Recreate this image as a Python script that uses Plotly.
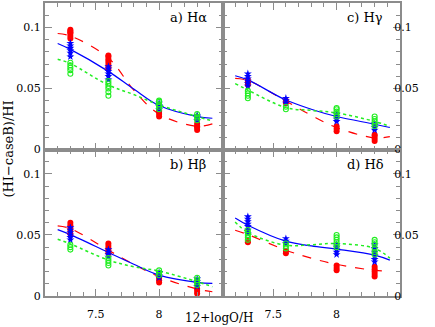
import plotly.graph_objects as go
from plotly.subplots import make_subplots

# metallicity grid of the models and x positions of the fit curves
oh_points = [7.3, 7.6, 8.0, 8.3]
fit_x = [7.2, 7.3, 7.6, 7.8, 8.0, 8.3, 8.42]

# (HI-caseB)/HI values, one list per metallicity
a_red = [[0.091, 0.093, 0.095, 0.096, 0.097, 0.098], [0.066, 0.068, 0.070, 0.072, 0.074, 0.076, 0.077],
         [0.027, 0.029, 0.031, 0.032], [0.016, 0.018, 0.019, 0.021]]
a_blue = [[0.076, 0.079, 0.081, 0.083, 0.085, 0.087], [0.057, 0.060, 0.062, 0.064, 0.066, 0.068],
          [0.033, 0.035, 0.036, 0.038], [0.024, 0.026, 0.027, 0.028]]
a_green = [[0.062, 0.065, 0.067, 0.069, 0.071], [0.044, 0.047, 0.050, 0.052, 0.054, 0.056],
           [0.033, 0.035, 0.037, 0.039, 0.040], [0.024, 0.026, 0.027, 0.029]]

c_red = [[0.053, 0.055, 0.057], [0.038, 0.040], [0.015, 0.017, 0.019], [0.007, 0.009, 0.011, 0.012]]
c_blue = [[0.052, 0.054, 0.056, 0.058, 0.060, 0.062], [0.038, 0.040, 0.042],
          [0.023, 0.025, 0.027, 0.029], [0.016, 0.018, 0.020, 0.021]]
c_green = [[0.042, 0.044, 0.046, 0.048], [0.033, 0.035], [0.027, 0.029, 0.031, 0.033, 0.034],
           [0.019, 0.021, 0.023, 0.025, 0.027]]

b_red = [[0.051, 0.054, 0.056, 0.058, 0.060], [0.035, 0.037, 0.039, 0.041, 0.043],
         [0.011, 0.013, 0.015], [0.002, 0.004, 0.006]]
b_blue = [[0.046, 0.048, 0.050, 0.052, 0.054, 0.056], [0.032, 0.034, 0.036, 0.038],
          [0.015, 0.017, 0.019], [0.008, 0.010, 0.012, 0.014]]
b_green = [[0.038, 0.040, 0.042], [0.025, 0.027, 0.029, 0.031], [0.017, 0.019, 0.021],
           [0.009, 0.011, 0.013, 0.015]]

d_red = [[0.044, 0.045], [0.035, 0.037], [0.021, 0.023, 0.025], [0.016, 0.018, 0.020, 0.022, 0.024]]
d_blue = [[0.051, 0.054, 0.057, 0.059, 0.061, 0.063, 0.065], [0.043, 0.045, 0.047],
          [0.034, 0.036, 0.038, 0.040, 0.042], [0.028, 0.030, 0.033, 0.036, 0.039, 0.042]]
d_green = [[0.046, 0.048, 0.050, 0.052, 0.054], [0.039, 0.041, 0.043],
           [0.040, 0.042, 0.044, 0.046, 0.048, 0.050], [0.034, 0.036, 0.039, 0.042, 0.044, 0.046]]

# fit curves
a_red_fit = [0.095, 0.093, 0.075, 0.0487, 0.029, 0.019, 0.021]
a_blue_fit = [0.0868, 0.082, 0.064, 0.0495, 0.036, 0.027, 0.0256]
a_green_fit = [0.074, 0.0704, 0.0528, 0.045, 0.0365, 0.027, 0.0234]

c_red_fit = [0.0582, 0.0565, 0.0397, 0.028, 0.018, 0.0095, 0.0106]
c_blue_fit = [0.0604, 0.057, 0.0405, 0.033, 0.027, 0.0207, 0.018]
c_green_fit = [0.054, 0.0487, 0.0343, 0.032, 0.030, 0.023, 0.019]

b_red_fit = [0.0574, 0.0552, 0.0375, 0.026, 0.0158, 0.0057, 0.0035]
b_blue_fit = [0.0544, 0.0503, 0.0357, 0.026, 0.0171, 0.0112, 0.0103]
b_green_fit = [0.0465, 0.0427, 0.0294, 0.024, 0.0204, 0.0117, 0.0076]

d_red_fit = [0.0539, 0.0503, 0.0375, 0.031, 0.0259, 0.021, 0.0204]
d_blue_fit = [0.0639, 0.058, 0.0449, 0.041, 0.0384, 0.0335, 0.0294]
d_green_fit = [0.0607, 0.052, 0.0416, 0.042, 0.043, 0.039, 0.031]

panel_labels = ["a) Hα", "c) Hγ", "b) Hβ", "d) Hδ"]

FONT = "DejaVu Serif"
AXIS_GREY = "#8c8c8c"
RED, BLUE, GREEN = "#ff0000", "#0000ff", "#22ee22"


def expand(groups):
    xs, ys = [], []
    for x, vals in zip(oh_points, groups):
        xs += [x] * len(vals)
        ys += vals
    return xs, ys


panels = [
    (1, 1, a_red, a_blue, a_green, a_red_fit, a_blue_fit, a_green_fit),
    (1, 2, c_red, c_blue, c_green, c_red_fit, c_blue_fit, c_green_fit),
    (2, 1, b_red, b_blue, b_green, b_red_fit, b_blue_fit, b_green_fit),
    (2, 2, d_red, d_blue, d_green, d_red_fit, d_blue_fit, d_green_fit),
]

fig = make_subplots(rows=2, cols=2, horizontal_spacing=0, vertical_spacing=0)

for i, (r, c, red, blue, green, red_fit, blue_fit, green_fit) in enumerate(panels):
    # fits
    fig.add_trace(go.Scatter(x=fit_x, y=red_fit, mode="lines", line_shape="spline",
                             line=dict(color=RED, width=1.2, dash="dash")), row=r, col=c)
    fig.add_trace(go.Scatter(x=fit_x, y=blue_fit, mode="lines", line_shape="spline",
                             line=dict(color=BLUE, width=1.2)), row=r, col=c)
    fig.add_trace(go.Scatter(x=fit_x, y=green_fit, mode="lines", line_shape="spline",
                             line=dict(color=GREEN, width=1.5, dash="dot")), row=r, col=c)
    # model points
    xs, ys = expand(red)
    fig.add_trace(go.Scatter(x=xs, y=ys, mode="markers",
                             marker=dict(color=RED, size=6, symbol="circle")), row=r, col=c)
    xs, ys = expand(blue)
    fig.add_trace(go.Scatter(x=xs, y=ys, mode="markers",
                             marker=dict(color=BLUE, size=6, symbol="star")), row=r, col=c)
    xs, ys = expand(green)
    fig.add_trace(go.Scatter(x=xs, y=ys, mode="markers",
                             marker=dict(color=GREEN, size=5, symbol="circle-open",
                                         line=dict(width=1.1))), row=r, col=c)

    fig.add_annotation(x=8.07, y=0.108, text=panel_labels[i], showarrow=False, xanchor="left",
                       font=dict(family=FONT, size=13, color="black"), row=r, col=c)

    fig.update_xaxes(range=[7.1, 8.5], tickvals=[7.5, 8.0], ticktext=["7.5", "8"],
                     showticklabels=(r == 2), ticks="inside", ticklen=7, tickwidth=1,
                     tickcolor=AXIS_GREY, showline=True, linecolor=AXIS_GREY, linewidth=2,
                     mirror="ticks", showgrid=False, zeroline=False, ticklabelstandoff=7,
                     minor=dict(dtick=0.1, tick0=7.1, ticks="inside", ticklen=4, tickcolor=AXIS_GREY),
                     tickfont=dict(family=FONT, size=11, color="black"), row=r, col=c)
    fig.update_yaxes(range=[0, 0.12], tickvals=[0, 0.05, 0.1], ticktext=["0", "0.05", "0.1"],
                     side="left" if c == 1 else "right", ticks="inside", ticklen=7, tickwidth=1,
                     tickcolor=AXIS_GREY, showline=True, linecolor=AXIS_GREY, linewidth=2,
                     mirror="ticks", showgrid=False, zeroline=False,
                     ticklabelstandoff=0 if c == 1 else -10,
                     minor=dict(dtick=0.01, tick0=0, ticks="inside", ticklen=4, tickcolor=AXIS_GREY),
                     tickfont=dict(family=FONT, size=11, color="black"), row=r, col=c)

fig.add_annotation(x=-0.104, y=0.5, xref="paper", yref="paper", text="(HI−caseB)/HI",
                   xanchor="center", yanchor="middle",
                   textangle=-90, showarrow=False, font=dict(family=FONT, size=13, color="black"))
fig.add_annotation(x=0.49, y=-0.075, xref="paper", yref="paper", text="12+logO/H",
                   xanchor="center", yanchor="middle",
                   showarrow=False, font=dict(family=FONT, size=12, color="black"))

fig.update_layout(width=435, height=327, showlegend=False,
                  margin=dict(l=45, r=35, t=1, b=31),
                  plot_bgcolor="white", paper_bgcolor="white")

# drop the browser's default 8px body margin so the figure sits at the page origin
fig.write_html("out.html", config={"displayModeBar": False},
               post_script="document.body.style.margin='0';")
